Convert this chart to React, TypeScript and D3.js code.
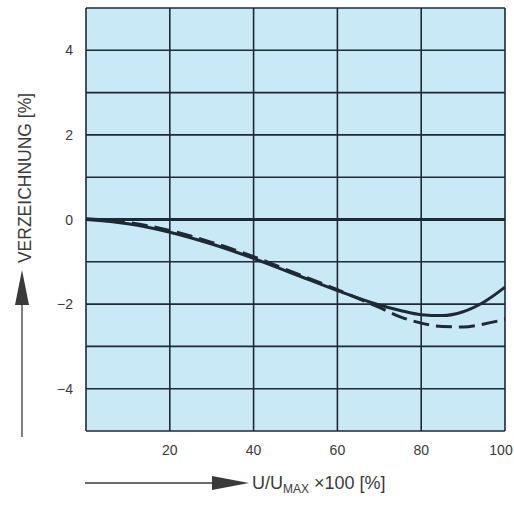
import React from "react";
import * as d3 from "d3";

const xTicks = [20, 40, 60, 80, 100];
const yTicks = [-4, -2, 0, 2, 4];
const xGrid = [0, 20, 40, 60, 80, 100];
const yGrid = [-5, -4, -3, -2, -1, 0, 1, 2, 3, 4, 5];

const xs = [0, 10, 20, 30, 40, 50, 60, 70, 75, 80, 85, 90, 95, 100];
const solidVals = [0, -0.1, -0.3, -0.58, -0.92, -1.3, -1.68, -2.02, -2.15, -2.25, -2.27, -2.18, -1.95, -1.6];
const dashedVals = [0.02, -0.07, -0.26, -0.54, -0.88, -1.27, -1.66, -2.08, -2.3, -2.45, -2.53, -2.54, -2.47, -2.36];
const zeroVals = [0, 0];
const zeroXs = [0, 100];

export default function App() {
  const W = 514, H = 513;
  const left = 86, right = 505, top = 8, bottom = 431;
  const x = d3.scaleLinear().domain([0, 100]).range([left, right]);
  const y = d3.scaleLinear().domain([-5, 5]).range([bottom, top]);
  const line = d3
    .line<[number, number]>()
    .x((d) => x(d[0]))
    .y((d) => y(d[1]))
    .curve(d3.curveMonotoneX);
  const solidPts = xs.map((v, i) => [v, solidVals[i]] as [number, number]);
  const dashedPts = xs.map((v, i) => [v, dashedVals[i]] as [number, number]);
  const zeroPts = zeroXs.map((v, i) => [v, zeroVals[i]] as [number, number]);
  const ink = "#1c2a35";
  const textCol = "#3a3a3a";
  const font = "'Liberation Sans', Arial, sans-serif";

  return (
    <svg
      width={W}
      height={H}
      style={{ position: "fixed", left: 0, top: 0, background: "#fff" }}
    >
      <rect x={left} y={top} width={right - left} height={bottom - top} fill="#cae9f7" />
      {xGrid.map((v) => (
        <line key={"vx" + v} x1={x(v)} x2={x(v)} y1={top} y2={bottom} stroke={ink} strokeWidth={1.6} />
      ))}
      {yGrid.map((v) => (
        <line key={"hy" + v} x1={left} x2={right} y1={y(v)} y2={y(v)} stroke={ink} strokeWidth={1.6} />
      ))}
      <path d={line(zeroPts) || ""} fill="none" stroke={ink} strokeWidth={2.8} />
      <path d={line(solidPts) || ""} fill="none" stroke={ink} strokeWidth={3} />
      <path d={line(dashedPts) || ""} fill="none" stroke={ink} strokeWidth={3} strokeDasharray="16 7" />
      {xTicks.map((v) => (
        <text
          key={"xt" + v}
          x={v === 100 ? x(v) - 4 : x(v)}
          y={455}
          textAnchor="middle"
          fontFamily={font}
          fontSize={14}
          fill={textCol}
        >
          {v}
        </text>
      ))}
      {yTicks.map((v) => (
        <text
          key={"yt" + v}
          x={73}
          y={y(v) + 5}
          textAnchor="end"
          fontFamily={font}
          fontSize={14}
          fill={textCol}
        >
          {v < 0 ? "\u2212" + Math.abs(v) : v}
        </text>
      ))}
      <text
        transform="translate(31,178) rotate(-90)"
        textAnchor="middle"
        fontFamily={font}
        fontSize={17.5}
        fill={textCol}
      >
        VERZEICHNUNG [%]
      </text>
      <line x1={22} x2={22} y1={437} y2={300} stroke={textCol} strokeWidth={1.3} />
      <path d="M22,270 L15,305 L29,305 Z" fill={textCol} />
      <line x1={85} x2={215} y1={483} y2={483} stroke={textCol} strokeWidth={1.3} />
      <path d="M249,483 L212,476 L212,490 Z" fill={textCol} />
      <text x={252} y={489} fontFamily={font} fontSize={18} fill={textCol}>
        U/U
        <tspan fontSize={12} dy={4}>MAX</tspan>
        <tspan fontSize={18} dy={-4}>{" \u00d7100 [%]"}</tspan>
      </text>
    </svg>
  );
}
